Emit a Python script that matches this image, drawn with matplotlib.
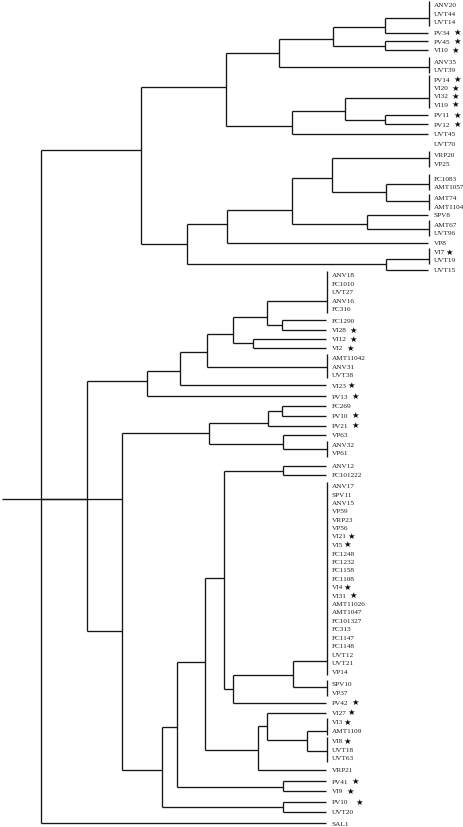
import matplotlib.pyplot as plt

# leaf labels, top to bottom (UVT70 has no branch in the original)
labels = ['ANV20', 'UVT44', 'UVT14', 'PV34', 'PV45', 'VI10', 'ANV35', 'UVT39',
          'PV14', 'VI20', 'VI32', 'VI19', 'PV11', 'PV12', 'UVT45', 'UVT70',
          'VRP20', 'VP25', 'FC1083', 'AMT1057', 'AMT74', 'AMT1104', 'SPV8',
          'AMT67', 'UVT96', 'VP8', 'VI7', 'UVT19', 'UVT15',
          'ANV18', 'FC1010', 'UVT27', 'ANV16', 'FC316', 'FC1290', 'VI28',
          'VI12', 'VI2', 'AMT11042', 'ANV31', 'UVT38', 'VI23', 'PV13',
          'FC269', 'PV10', 'PV21', 'VP63', 'ANV32', 'VP61', 'ANV12', 'FC101222',
          'ANV17', 'SPV11', 'ANV15', 'VP59', 'VRP23', 'VP56', 'VI21', 'VI5',
          'FC1248', 'FC1232', 'FC1158', 'FC1108', 'VI4', 'VI31', 'AMT11026',
          'AMT1047', 'FC101327', 'FC313', 'FC1147', 'FC1148', 'UVT12', 'UVT21',
          'VP14', 'SPV10', 'VP37', 'PV42', 'VI27', 'VI3', 'AMT1109', 'VI8',
          'UVT18', 'UVT63', 'VRP21', 'PV41', 'VI9', 'PV10', 'UVT20', 'SAL1']

# row of each label (pixels from top)
label_y = [5.7, 14.3, 23, 33.5, 42, 51, 62, 70,
           80, 88.7, 97, 105.3, 115.7, 125.3, 134.5, 144.3,
           155.7, 164, 179.3, 187.3, 198.7, 207.3, 216,
           225.3, 233.3, 244, 252.7, 261, 270.7,
           276, 284.7, 293, 301.7, 310, 321.3, 331,
           340, 349, 359, 367.3, 375.3, 386.3, 397.3,
           407, 416.5, 426.5, 435.7, 446, 454, 466.5, 475.7,
           486.7, 495.3, 503.7, 512, 520.3, 528.7, 537, 545.3,
           554.2, 562.7, 571, 579.3, 587.7, 596.3, 604.7,
           613, 621.3, 630, 638.3, 647, 655.3, 663.7,
           672.3, 684.7, 693.2, 703.5, 713.5, 722.7, 731.7, 742,
           750.3, 759, 771, 782.3, 792, 803, 812.7, 824.5]

# star marks: 0 none, 1 right after the name, 2 after a space, 3 wide gap
stars = [0, 0, 0, 2, 2, 2, 0, 0,
         2, 2, 2, 2, 2, 2, 0, 0,
         0, 0, 0, 0, 0, 0, 0,
         0, 0, 0, 1, 0, 0,
         0, 0, 0, 0, 0, 0, 2,
         2, 2, 0, 0, 0, 1, 2,
         0, 2, 2, 0, 0, 0, 0, 0,
         0, 0, 0, 0, 0, 0, 1, 1,
         0, 0, 0, 0, 1, 2, 0,
         0, 0, 0, 0, 0, 0, 0,
         0, 0, 0, 2, 1, 1, 0, 1,
         0, 0, 0, 2, 2, 3, 0, 0]

n_top = 29  # leaves of the upper clade (longer tips)


def node(x, y, *kids):
    return {'x': x, 'y': y, 'kids': kids}


def grp(y, first, last):
    # leaves joined at zero distance
    return {'grp': (first, last), 'y': y}


tree = node(41.3, 500,
    node(141, 150.7,
        node(226, 87.7,
            node(279, 54.3,
                node(332.7, 40.3,
                    node(385, 28.3, grp(19, 0, 2), 3),
                    node(385, 46.7, 4, 5)),
                grp(67.7, 6, 7)),
            node(292.3, 126.7,
                node(345, 112.3, grp(99, 8, 11), node(385, 120.7, 12, 13)),
                14)),
        node(187.3, 245,
            node(226.7, 225,
                node(292.3, 211,
                    node(331.7, 179.3, grp(159.3, 16, 17),
                         node(386, 193.3, grp(185, 18, 19), grp(202.3, 20, 21))),
                    node(366.7, 225, 22, grp(230, 23, 24))),
                25),
            node(386, 265, grp(260, 26, 27), 28))),
    node(87.3, 500,
        node(147.3, 381.7,
            node(180, 371.7,
                node(206.7, 353.3,
                    node(232.7, 335,
                        node(266.7, 317.7, grp(302.3, 29, 33), node(281.7, 326, 34, 35)),
                        node(252.7, 344, 36, 37)),
                    grp(367.7, 38, 40)),
                41),
            42),
        node(122.3, 631.7,
            node(209, 434.3,
                node(268.3, 424.3, node(281.7, 411.7, 43, 44), 45),
                node(283.3, 445, 46, grp(450, 47, 48))),
            node(162.3, 770.7,
                node(176.7, 728.3,
                    node(205, 662.7,
                        node(224, 579.3,
                            node(283.3, 472.3, 49, 50),
                            node(233.3, 690,
                                node(292.7, 675.7, grp(661.7, 51, 73), grp(687.7, 74, 75)),
                                76)),
                        node(258.3, 751,
                            node(266.7, 726.7, 77,
                                 node(306.7, 741, grp(731.7, 78, 79), grp(751.7, 80, 82))),
                            83)),
                    node(282.7, 787.7, 84, 85)),
                node(282.7, 807.7, 86, 87)))),
    88)

TOP_TIP = 429
LOW_TIP = 327
line = dict(color='#161616', lw=0.95, solid_capstyle='butt')

fig = plt.figure(figsize=(4.63, 8.28), dpi=100)
ax = fig.add_axes([0, 0, 1, 1])
ax.set_xlim(0, 463)
ax.set_ylim(828, 0)
ax.axis('off')


def tip_of(i):
    return TOP_TIP if i < n_top else LOW_TIP


def child_y(k):
    return label_y[k] if isinstance(k, int) else k['y']


def draw(nd):
    ys = [child_y(k) for k in nd['kids']]
    ax.plot([nd['x'], nd['x']], [min(ys), max(ys)], **line)
    for k, y in zip(nd['kids'], ys):
        if isinstance(k, int):
            ax.plot([nd['x'], tip_of(k) - 1], [y, y], **line)
        elif 'grp' in k:
            a, b = k['grp']
            t = tip_of(a)
            ax.plot([nd['x'], t], [y, y], **line)
            ax.plot([t, t], [label_y[a] - 4, label_y[b] + 4], **line)
        else:
            ax.plot([nd['x'], k['x']], [y, y], **line)
            draw(k)


draw(tree)
# stem line drawn across the root in the original
ax.plot([1.7, tree['kids'][1]['kids'][1]['x']], [500, 500], **line)

texts = []
for i, name in enumerate(labels):
    t = ax.text(tip_of(i) + 4.5, label_y[i], name, fontsize=5.25,
                family='Liberation Serif', color='#1e1e1e', va='center', ha='left')
    texts.append(t)

fig.canvas.draw()
renderer = fig.canvas.get_renderer()
inv = ax.transData.inverted()
gaps = {1: 0.8, 2: 3.5, 3: 8}
for i, s in enumerate(stars):
    if s == 0:
        continue
    bb = texts[i].get_window_extent(renderer)
    x_end = inv.transform((bb.x1, bb.y0))[0]
    ax.text(x_end + gaps[s], label_y[i] - 0.6, '\u2605', fontsize=6,
            family='DejaVu Sans', color='#0a0a0a', va='center', ha='left')

fig.savefig('out.png', dpi=100)
